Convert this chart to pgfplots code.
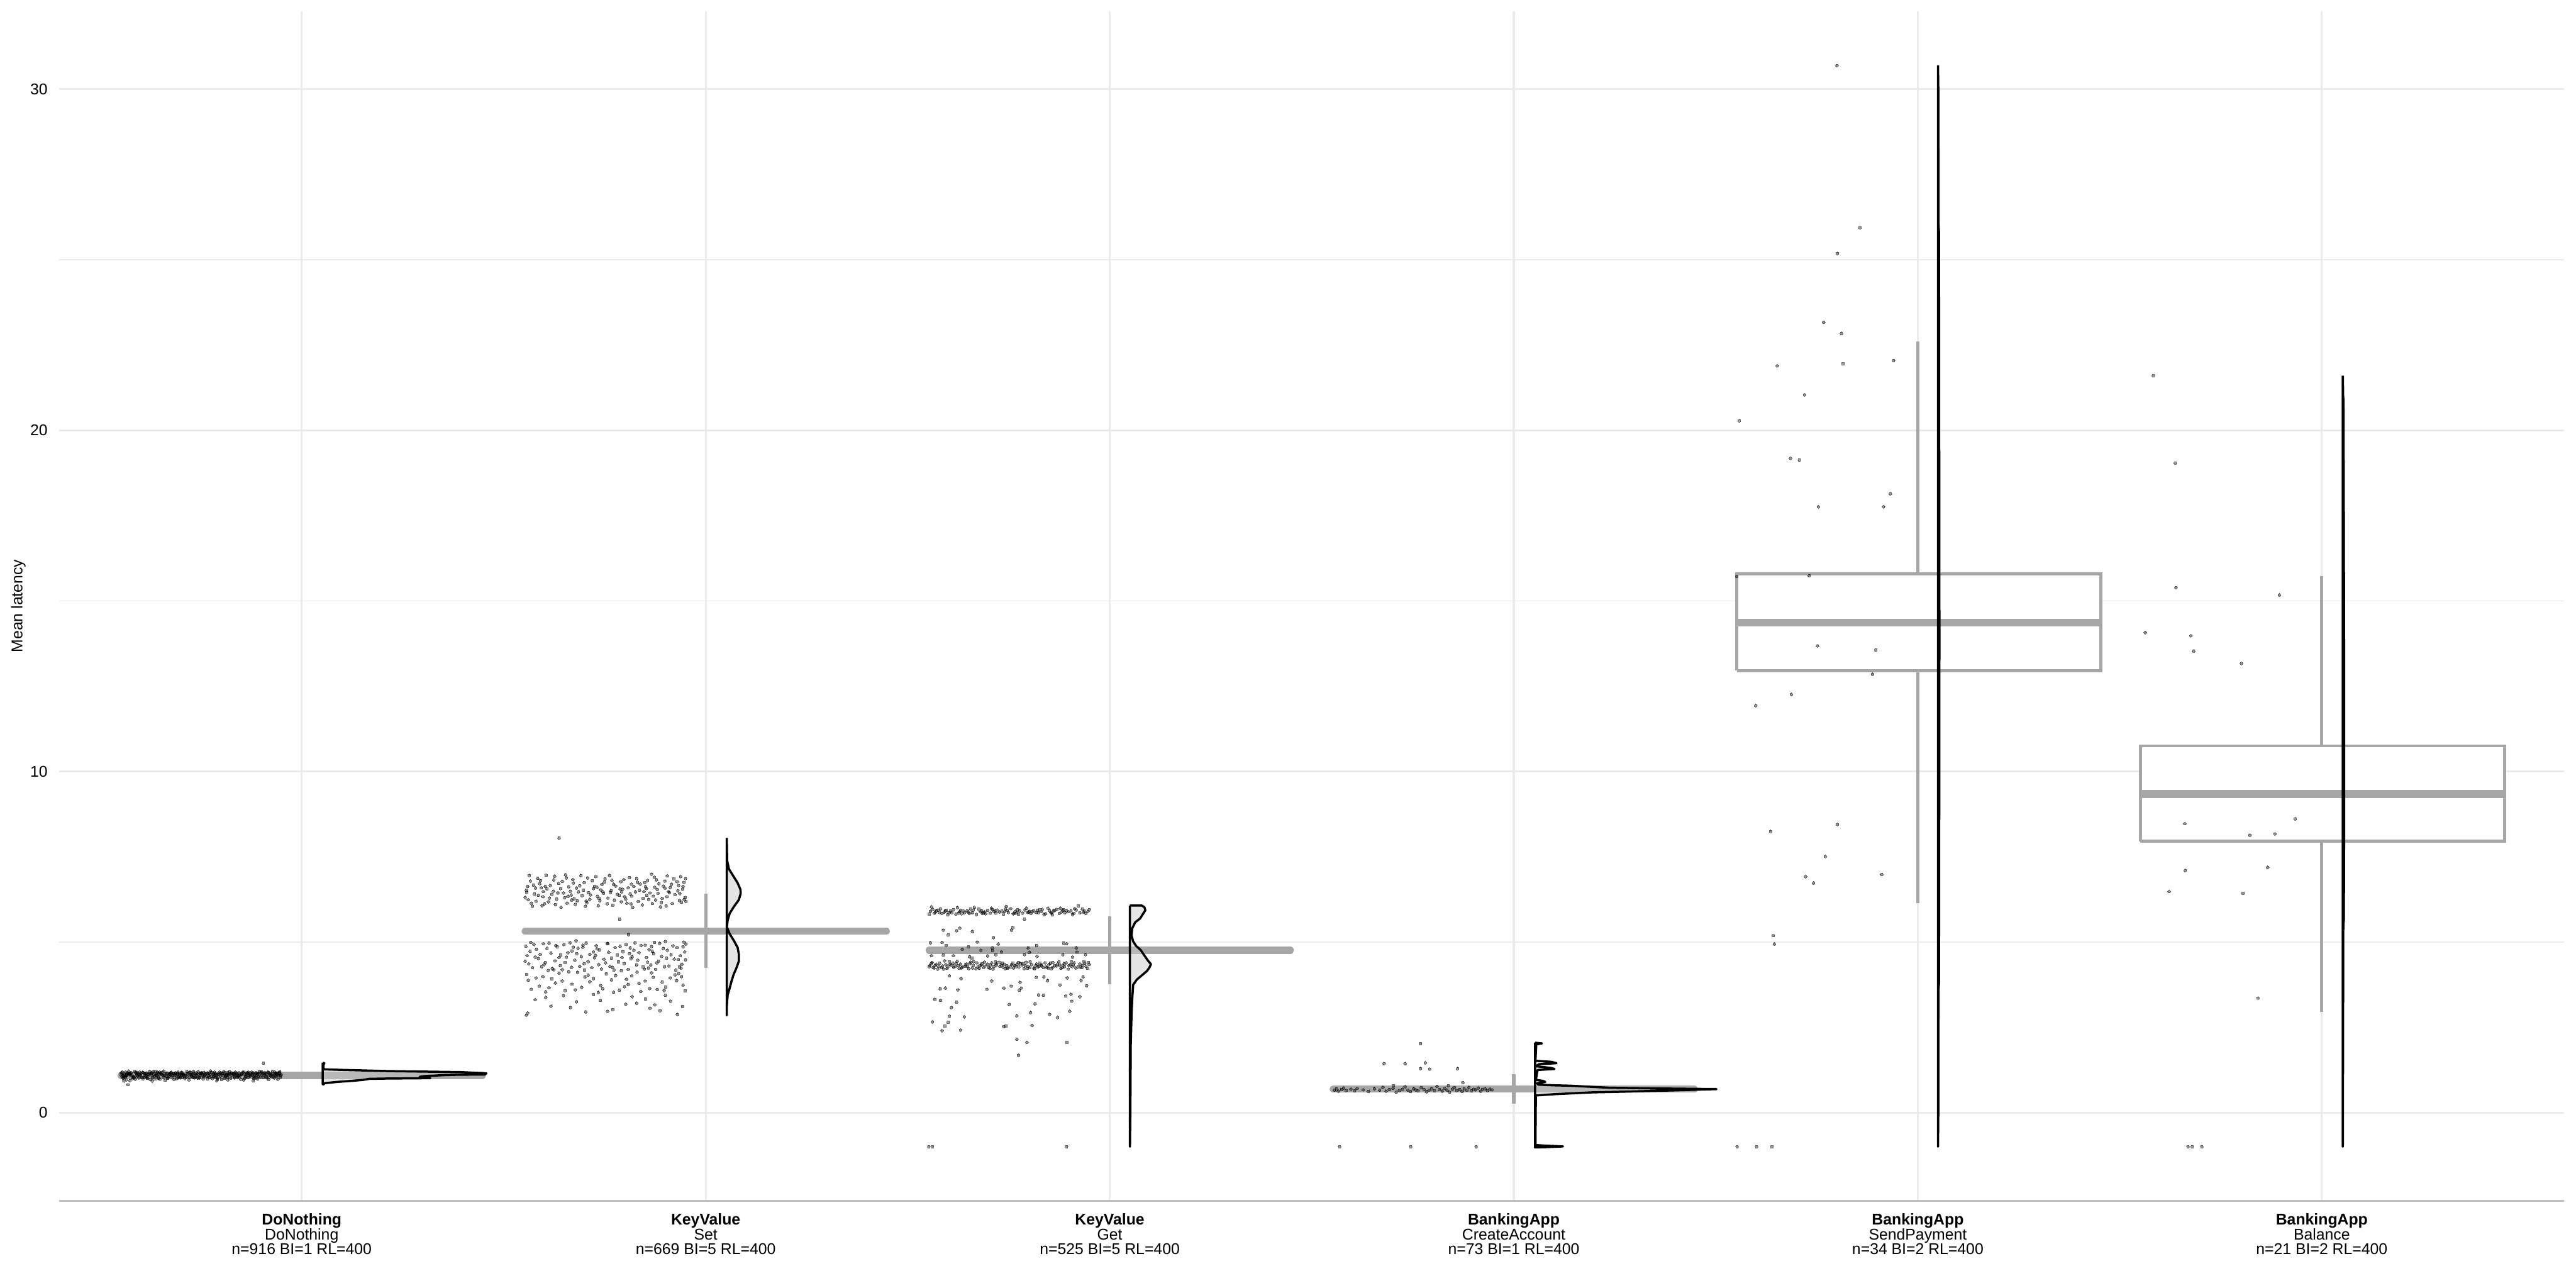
\documentclass[border=0pt]{standalone}
\usepackage{fontspec}
\setmainfont{Liberation Sans}
\usepackage{pgfplots}
\pgfplotsset{compat=1.18}
\definecolor{gridgray}{RGB}{235,235,235}
\definecolor{axisgray}{RGB}{190,190,190}
\definecolor{boxgray}{RGB}{166,166,166}
\definecolor{violinfill}{RGB}{204,204,204}
\newcommand{\tf}{\fontsize{3.05bp}{2.9bp}\selectfont}
\pgfplotsset{
  pts/.style={only marks, mark=*, mark size=0.28bp, mark options={fill=black, draw=black, line width=0pt, opacity=0.4}},
  med/.style={mark=none, draw=boxgray, line width=1.4bp, line cap=round},
  whisk/.style={mark=none, draw=boxgray, line width=0.65bp},
  boxs/.style={mark=none, draw=boxgray, fill=white, line width=0.6bp},
  viol/.style={mark=none, draw=black, line width=0.43bp, fill=violinfill, fill opacity=0.5, line join=round},
}
\begin{document}
\begin{tikzpicture}
\begin{axis}[
  at={(0,0)}, anchor=south west,
  scale only axis, width=490bp, height=232.7bp,
  xmin=0.4, xmax=6.6, ymin=-2.585, ymax=32.285,
  axis x line*=bottom, axis y line*=left,
  x axis line style={draw=axisgray, line width=0.4bp, -},
  y axis line style={draw=none},
  xtick={1,2,3,4,5,6}, ytick={0,10,20,30},
  minor ytick={5,15,25},
  major tick length=0pt, minor tick length=0pt,
  xmajorgrids, ymajorgrids, yminorgrids,
  major grid style={draw=gridgray, line width=0.38bp},
  minor grid style={draw=gridgray, line width=0.19bp},
  xticklabels={{\textbf{DoNothing}\\DoNothing\\n=916 BI=1 RL=400},
               {\textbf{KeyValue}\\Set\\n=669 BI=5 RL=400},
               {\textbf{KeyValue}\\Get\\n=525 BI=5 RL=400},
               {\textbf{BankingApp}\\CreateAccount\\n=73 BI=1 RL=400},
               {\textbf{BankingApp}\\SendPayment\\n=34 BI=2 RL=400},
               {\textbf{BankingApp}\\Balance\\n=21 BI=2 RL=400}},
  xticklabel style={font=\tf, align=center, inner sep=0pt, yshift=-2.3bp},
  yticklabel style={font=\tf, inner sep=0pt, xshift=-2.1bp},
  /pgf/number format/assume math mode=true,
  ylabel={Mean latency},
  ylabel style={font=\tf, at={(axis description cs:-0.01633,0.5)}, anchor=center, inner sep=0pt},
]
% ---------- boxes ----------
\addplot[boxs] coordinates {(4.552,12.96) (5.453,12.96) (5.453,15.8) (4.552,15.8) (4.552,12.96)};
\addplot[boxs] coordinates {(5.551,7.95) (6.453,7.95) (6.453,10.75) (5.551,10.75) (5.551,7.95)};
\addplot[whisk] coordinates {(5,15.8) (5,22.6)};
\addplot[whisk] coordinates {(5,12.96) (5,6.15)};
\addplot[whisk] coordinates {(6,10.75) (6,15.72)};
\addplot[whisk] coordinates {(6,7.95) (6,2.95)};
\addplot[med, line cap=butt, line width=1.5bp] coordinates {(4.552,14.37) (5.453,14.37)};
\addplot[med, line cap=butt, line width=1.5bp] coordinates {(5.551,9.34) (6.453,9.34)};
\addplot[whisk] coordinates {(2,4.25) (2,6.42)};
\addplot[whisk] coordinates {(3,3.77) (3,5.76)};
\addplot[whisk] coordinates {(4,0.27) (4,1.12)};
\addplot[whisk] coordinates {(1,1.0) (1,1.2)};
\addplot[med] coordinates {(0.553,1.09) (1.447,1.09)};
\addplot[med] coordinates {(1.553,5.32) (2.447,5.32)};
\addplot[med] coordinates {(2.553,4.76) (3.447,4.76)};
\addplot[med] coordinates {(3.553,0.69) (4.447,0.69)};
% ---------- violins ----------
\addplot[viol] coordinates {(1.052,1.46) (1.056,1.45) (1.054,1.40) (1.054,1.30) (1.056,1.27) (1.099,1.253) (1.215,1.218) (1.304,1.203) (1.394,1.188) (1.457,1.153) (1.453,1.117) (1.388,1.112) (1.352,1.10) (1.302,1.07) (1.292,1.05) (1.312,1.03) (1.318,1.01) (1.212,1.00) (1.167,0.99) (1.152,0.96) (1.122,0.93) (1.087,0.90) (1.057,0.864) (1.054,0.83) (1.052,0.83) (1.052,1.46)};
\addplot[viol] coordinates {(2.052,8.05) (2.053,7.39) (2.0575,7.14) (2.068,6.94) (2.0786,6.74) (2.086,6.54) (2.0865,6.42) (2.082,6.24) (2.0698,6.04) (2.0593,5.84) (2.0543,5.64) (2.0522,5.44) (2.0593,5.24) (2.0698,5.04) (2.079,4.84) (2.082,4.64) (2.082,4.44) (2.076,4.24) (2.069,4.05) (2.0638,3.85) (2.0593,3.65) (2.0543,3.45) (2.0523,3.15) (2.052,2.85) (2.052,8.05)};
\addplot[viol] coordinates {(3.05,6.07) (3.0795,6.07) (3.086,6.02) (3.088,5.93) (3.082,5.82) (3.075,5.69) (3.063,5.58) (3.0555,5.40) (3.054,5.19) (3.058,5.02) (3.065,4.89) (3.077,4.76) (3.0837,4.64) (3.095,4.45) (3.102,4.35) (3.098,4.25) (3.092,4.15) (3.077,4.00) (3.067,3.90) (3.058,3.75) (3.056,3.40) (3.054,2.90) (3.052,2.0) (3.0515,1.0) (3.051,0) (3.05,-1.0) (3.05,6.07)};
\addplot[viol] coordinates {(4.0527,2.05) (4.0697,2.03) (4.0557,2.00) (4.0537,1.52) (4.0927,1.49) (4.1057,1.45) (4.0627,1.42) (4.0547,1.36) (4.0927,1.31) (4.1007,1.28) (4.0587,1.25) (4.0547,0.96) (4.0727,0.93) (4.078,0.90) (4.0577,0.86) (4.0607,0.82) (4.1027,0.80) (4.1387,0.79) (4.2357,0.73) (4.3967,0.703) (4.5017,0.69) (4.3967,0.653) (4.2697,0.614) (4.1937,0.594) (4.1047,0.544) (4.0547,0.504) (4.0537,-0.95) (4.0827,-0.97) (4.1217,-0.99) (4.0827,-1.01) (4.0527,-1.02) (4.0527,2.05)};
\addplot[viol] coordinates {(5.05,30.7) (5.0508,30) (5.0515,26) (5.0525,25.8) (5.053,20) (5.0535,14) (5.053,8) (5.0525,3.8) (5.0512,3.6) (5.0508,0) (5.05,-1) (5.05,30.7)};
\addplot[viol] coordinates {(6.052,21.6) (6.0528,21) (6.0535,20.9) (6.0545,17) (6.0555,12) (6.0555,9) (6.0545,5.66) (6.0532,5.5) (6.0528,3.3) (6.052,-1) (6.052,21.6)};
% ---------- points: DoNothing ----------
\addplot[pts] coordinates {
(0.553,1.12) (0.584,1.05) (0.606,1.18) (0.637,0.99) (0.664,1.14) (0.689,1.08) (0.716,1.21) (0.747,1.02) (0.771,1.16) (0.802,0.97) (0.826,1.10) (0.857,1.19) (0.881,1.04) (0.912,1.13) (0.937,1.07)
(0.559,1.03) (0.578,1.17) (0.611,1.09) (0.632,1.20) (0.668,1.01) (0.693,1.15) (0.721,0.96) (0.739,1.11) (0.776,1.06) (0.797,1.19) (0.832,1.13) (0.849,0.98) (0.886,1.16) (0.905,1.03) (0.944,1.18)
(0.556,1.19) (0.588,0.98) (0.614,1.06) (0.641,1.14) (0.659,1.22) (0.695,1.04) (0.708,1.12) (0.752,1.17) (0.767,0.99) (0.806,1.09) (0.821,1.20) (0.862,1.07) (0.877,1.12) (0.918,0.97) (0.931,1.11)
(0.562,1.08) (0.575,1.14) (0.618,1.01) (0.628,1.17) (0.671,1.07) (0.684,0.97) (0.725,1.18) (0.736,1.05) (0.781,1.13) (0.792,1.02) (0.838,1.16) (0.846,1.10) (0.891,0.99) (0.901,1.20) (0.947,1.04)
(0.566,0.96) (0.592,1.10) (0.602,1.15) (0.645,1.05) (0.655,1.19) (0.698,1.11) (0.731,1.03) (0.744,1.20) (0.763,1.15) (0.811,1.05) (0.817,0.96) (0.866,1.17) (0.873,1.08) (0.921,1.15) (0.928,1.21)
(0.569,1.16) (0.597,1.02) (0.621,1.12) (0.649,0.98) (0.675,1.11) (0.702,1.18) (0.728,1.07) (0.756,0.99) (0.784,1.19) (0.814,1.12) (0.841,1.03) (0.869,1.14) (0.895,1.21) (0.924,1.06) (0.949,1.12)
(0.572,1.22) (0.594,1.07) (0.625,0.97) (0.652,1.13) (0.679,1.04) (0.706,1.10) (0.733,1.16) (0.759,1.09) (0.788,1.04) (0.809,1.17) (0.835,1.08) (0.859,1.01) (0.889,1.11) (0.916,1.19) (0.941,0.98)
(0.555,1.06) (0.587,1.21) (0.609,1.03) (0.639,1.10) (0.667,1.16) (0.691,1.00) (0.719,1.13) (0.749,1.14) (0.774,1.22) (0.799,1.07) (0.829,1.14) (0.854,1.18) (0.883,1.06) (0.909,1.09) (0.939,1.16)
(0.561,1.13) (0.582,1.00) (0.616,1.16) (0.635,1.07) (0.662,0.95) (0.687,1.17) (0.714,1.05) (0.743,1.01) (0.769,1.10) (0.804,1.14) (0.824,1.01) (0.852,1.12) (0.879,1.17) (0.914,1.02) (0.934,1.14)
(0.564,1.19) (0.579,1.11) (0.607,0.99) (0.643,1.18) (0.673,1.12) (0.697,1.06) (0.723,1.19) (0.738,1.08) (0.779,1.00) (0.794,1.12) (0.836,1.19) (0.861,1.05) (0.887,1.02) (0.903,1.14) (0.943,1.09)
(0.558,1.01) (0.591,1.15) (0.613,1.13) (0.631,1.03) (0.657,1.08) (0.701,1.13) (0.711,1.00) (0.751,1.16) (0.773,1.12) (0.807,1.21) (0.819,1.11) (0.856,0.96) (0.893,1.13) (0.911,1.16) (0.932,1.02)
(0.567,1.10) (0.585,1.04) (0.623,1.20) (0.647,1.15) (0.669,1.02) (0.682,1.14) (0.729,1.11) (0.746,1.04) (0.786,1.15) (0.791,0.98) (0.843,1.06) (0.864,1.16) (0.876,1.19) (0.926,1.11) (0.946,1.20)
(0.571,1.14) (0.599,1.19) (0.604,1.04) (0.654,1.12) (0.677,1.18) (0.704,1.03) (0.717,1.15) (0.761,1.12) (0.783,1.06) (0.812,1.10) (0.831,1.15) (0.847,1.09) (0.898,1.04) (0.919,1.08) (0.938,1.13)
(0.554,1.17) (0.577,1.08) (0.627,1.11) (0.638,1.21) (0.661,1.10) (0.694,1.19) (0.735,1.02) (0.754,1.10) (0.766,1.17) (0.816,1.03) (0.839,1.12) (0.871,1.11) (0.882,1.00) (0.907,1.17) (0.929,1.05)
(0.563,1.04) (0.596,1.13) (0.619,1.07) (0.646,1.01) (0.684,1.15) (0.709,1.08) (0.726,1.12) (0.758,1.18) (0.789,1.11) (0.801,1.16) (0.845,1.17) (0.858,1.13) (0.891,1.15) (0.922,1.13) (0.948,1.08)
(0.568,1.11) (0.589,1.18) (0.612,1.15) (0.651,1.16) (0.666,1.06) (0.699,1.02) (0.739,1.17) (0.764,1.07) (0.777,1.18) (0.818,1.13) (0.834,1.02) (0.867,1.03) (0.894,1.07) (0.913,1.05) (0.936,1.17)
(0.557,1.09) (0.583,1.03) (0.629,1.16) (0.642,1.09) (0.672,1.13) (0.686,1.10) (0.713,1.08) (0.748,1.09) (0.791,1.13) (0.809,1.01) (0.827,1.17) (0.851,1.14) (0.885,1.10) (0.917,1.18) (0.941,1.11)
(0.574,1.15) (0.601,1.09) (0.617,1.02) (0.634,1.12) (0.676,1.17) (0.705,1.16) (0.722,1.04) (0.742,1.13) (0.772,1.03) (0.798,1.15) (0.842,1.09) (0.868,1.19) (0.878,1.14) (0.901,1.11) (0.945,1.15)
(0.565,1.07) (0.593,1.16) (0.624,1.14) (0.658,1.04) (0.681,1.09) (0.692,1.13) (0.732,1.20) (0.757,1.06) (0.785,1.09) (0.813,1.08) (0.822,1.13) (0.872,1.07) (0.899,1.18) (0.923,1.10) (0.933,1.19)
(0.573,1.13) (0.598,1.12) (0.608,1.17) (0.648,1.19) (0.674,1.14) (0.703,1.11) (0.727,1.09) (0.753,1.15) (0.782,1.14) (0.817,1.18) (0.833,1.05) (0.863,1.12) (0.888,1.16) (0.908,1.12) (0.935,1.10)
(0.905,1.45) (0.570,0.82) (0.560,0.93) (0.575,0.94) (0.630,0.93) (0.790,0.94) (0.880,0.935)
};
% ---------- points: KeyValue Set ----------
\addplot[pts] coordinates {
(1.556,6.52) (1.589,6.71) (1.611,6.18) (1.648,6.44) (1.671,6.83) (1.702,6.05) (1.731,6.61) (1.758,6.29) (1.790,6.77) (1.815,6.12) (1.847,6.48) (1.873,6.90) (1.904,6.33) (1.933,6.66)
(1.561,6.24) (1.584,6.87) (1.619,6.40) (1.642,6.02) (1.680,6.58) (1.699,6.74) (1.738,6.21) (1.762,6.95) (1.786,6.37) (1.822,6.63) (1.843,6.09) (1.880,6.54) (1.899,6.79) (1.940,6.17)
(1.566,6.79) (1.597,6.33) (1.615,6.66) (1.655,6.88) (1.674,6.27) (1.710,6.45) (1.728,6.92) (1.770,6.08) (1.794,6.55) (1.817,6.35) (1.856,6.81) (1.876,6.23) (1.912,6.60) (1.936,6.42)
(1.571,6.05) (1.593,6.59) (1.626,6.93) (1.651,6.30) (1.685,6.47) (1.706,6.15) (1.743,6.69) (1.766,6.51) (1.802,6.26) (1.829,6.86) (1.851,6.62) (1.888,6.03) (1.908,6.48) (1.946,6.75)
(1.559,6.63) (1.601,6.12) (1.623,6.49) (1.661,6.62) (1.691,6.95) (1.715,6.38) (1.734,6.07) (1.777,6.64) (1.797,6.83) (1.833,6.19) (1.862,6.44) (1.884,6.71) (1.917,6.13) (1.949,6.31)
(1.576,6.41) (1.605,6.96) (1.631,6.26) (1.657,6.14) (1.694,6.36) (1.719,6.80) (1.747,6.43) (1.774,6.23) (1.808,6.59) (1.826,6.47) (1.866,6.99) (1.892,6.28) (1.921,6.85) (1.943,6.55)
(1.563,6.95) (1.586,6.37) (1.636,6.72) (1.665,6.49) (1.677,6.11) (1.722,6.57) (1.751,6.85) (1.781,6.40) (1.805,6.14) (1.838,6.70) (1.859,6.25) (1.895,6.64) (1.924,6.39) (1.938,6.92)
(1.553,6.31) (1.598,6.48) (1.628,6.10) (1.645,6.78) (1.688,6.65) (1.713,6.25) (1.740,6.53) (1.768,6.81) (1.799,6.33) (1.819,6.02) (1.853,6.57) (1.882,6.43) (1.915,6.69) (1.951,6.19)
(1.568,6.14) (1.591,6.80) (1.607,6.56) (1.659,6.34) (1.682,6.21) (1.708,6.88) (1.736,6.28) (1.772,6.69) (1.792,6.47) (1.836,6.52) (1.870,6.35) (1.878,6.82) (1.902,6.06) (1.931,6.50)
(1.574,6.67) (1.580,6.20) (1.624,6.82) (1.641,6.57) (1.667,6.38) (1.725,6.63) (1.756,6.12) (1.764,6.46) (1.811,6.89) (1.845,6.28) (1.849,6.74) (1.890,6.16) (1.929,6.77) (1.947,6.25)
(1.557,6.46) (1.603,6.63) (1.613,6.29) (1.653,6.97) (1.697,6.52) (1.704,6.20) (1.749,6.76) (1.788,6.56) (1.813,6.41) (1.831,6.75) (1.868,6.13) (1.899,6.58) (1.910,6.45) (1.944,6.63)
(1.579,6.58) (1.595,6.07) (1.634,6.44) (1.668,6.23) (1.672,6.73) (1.732,6.34) (1.745,6.48) (1.791,6.18) (1.816,6.70) (1.854,6.37) (1.874,6.61) (1.905,6.94) (1.935,6.22) (1.950,6.86)
(1.555,4.88) (1.586,4.52) (1.612,4.97) (1.640,4.31) (1.669,4.74) (1.700,4.18) (1.727,4.61) (1.758,4.95) (1.784,4.42) (1.813,4.83) (1.845,4.27) (1.871,4.66) (1.900,5.02) (1.932,4.49)
(1.562,4.36) (1.581,4.79) (1.620,4.22) (1.649,4.93) (1.676,4.47) (1.696,4.85) (1.735,4.34) (1.760,4.70) (1.791,4.16) (1.818,4.57) (1.850,4.91) (1.879,4.39) (1.905,4.76) (1.939,4.24)
(1.567,4.99) (1.594,4.28) (1.617,4.68) (1.655,4.56) (1.679,5.04) (1.709,4.43) (1.729,4.89) (1.769,4.26) (1.795,4.72) (1.825,4.98) (1.853,4.55) (1.876,4.20) (1.914,4.63) (1.944,4.86)
(1.558,4.60) (1.598,4.95) (1.627,4.45) (1.645,4.19) (1.684,4.82) (1.713,4.64) (1.742,4.21) (1.767,4.53) (1.803,4.93) (1.829,4.33) (1.860,4.78) (1.886,4.96) (1.909,4.30) (1.948,4.71)
(1.571,4.25) (1.590,4.64) (1.632,4.86) (1.659,4.69) (1.688,4.29) (1.704,4.97) (1.748,4.50) (1.776,4.84) (1.798,4.37) (1.835,4.69) (1.858,4.24) (1.891,4.58) (1.919,4.89) (1.941,4.35)
(1.565,4.73) (1.603,4.40) (1.624,4.19) (1.664,4.98) (1.692,4.58) (1.718,4.25) (1.737,4.77) (1.781,4.62) (1.808,4.20) (1.832,4.47) (1.866,4.87) (1.883,4.44) (1.926,4.18) (1.951,4.94)
(1.575,4.93) (1.607,4.82) (1.637,4.55) (1.652,4.40) (1.696,4.91) (1.722,4.71) (1.752,4.39) (1.773,4.18) (1.811,4.66) (1.840,4.90) (1.864,4.33) (1.895,4.81) (1.922,4.50) (1.937,4.60)
(1.553,4.44) (1.610,4.17) (1.629,4.90) (1.668,4.26) (1.681,4.66) (1.725,4.54) (1.756,4.96) (1.788,4.88) (1.815,4.51) (1.848,4.21) (1.868,4.73) (1.898,4.28) (1.929,4.84) (1.946,5.00)
(1.578,4.56) (1.600,4.34) (1.641,4.62) (1.672,4.85) (1.699,4.37) (1.731,4.80) (1.763,4.29) (1.793,4.55) (1.822,4.76) (1.856,4.41) (1.873,4.99) (1.903,4.53) (1.935,4.27) (1.950,4.48)
(1.557,4.05) (1.588,3.71) (1.619,3.92) (1.652,3.58) (1.683,4.11) (1.713,3.84) (1.745,3.63) (1.777,4.02) (1.808,3.76) (1.839,3.55) (1.870,3.97) (1.901,3.68) (1.933,4.08)
(1.568,3.62) (1.597,3.99) (1.628,3.80) (1.661,4.13) (1.693,3.67) (1.722,3.93) (1.754,4.07) (1.786,3.59) (1.817,4.01) (1.850,3.86) (1.880,3.61) (1.912,3.95) (1.944,3.74)
(1.561,3.88) (1.604,3.54) (1.637,4.09) (1.669,3.77) (1.701,3.98) (1.734,3.52) (1.767,3.89) (1.799,3.69) (1.830,4.12) (1.861,3.64) (1.892,3.83) (1.924,4.04) (1.949,3.57)
(1.580,3.95) (1.612,3.66) (1.645,3.86) (1.677,3.60) (1.709,4.03) (1.740,3.73) (1.772,3.53) (1.804,3.91) (1.835,3.79) (1.866,4.10) (1.897,3.58) (1.928,3.87) (1.940,3.99)
(1.556,2.86) (1.559,2.92) (1.578,3.31) (1.604,3.38) (1.617,3.12) (1.648,3.43) (1.665,3.08) (1.680,3.25) (1.703,2.95) (1.722,3.46) (1.739,3.29) (1.757,2.97) (1.770,3.02) (1.802,3.18) (1.818,3.40) (1.829,3.21) (1.851,3.33) (1.862,3.06) (1.874,3.16) (1.887,2.99) (1.900,3.44) (1.913,3.27) (1.930,2.88) (1.943,3.11)
(1.637,8.05) (1.787,5.67) (1.809,5.22)
};
% ---------- points: KeyValue Get ----------
\addplot[pts] coordinates {
(2.556,5.90) (2.585,5.84) (2.613,5.95) (2.641,5.87) (2.670,5.81) (2.698,5.93) (2.727,5.88) (2.755,5.98) (2.784,5.85) (2.812,5.91) (2.841,5.83) (2.869,5.96) (2.898,5.89) (2.926,5.86)
(2.562,5.96) (2.590,5.88) (2.619,5.82) (2.647,5.92) (2.676,5.97) (2.704,5.85) (2.733,5.91) (2.761,5.83) (2.790,5.94) (2.818,5.87) (2.847,5.99) (2.875,5.84) (2.904,5.92) (2.932,5.97)
(2.566,5.85) (2.595,5.93) (2.623,6.01) (2.652,5.84) (2.680,5.89) (2.709,5.96) (2.737,5.82) (2.766,5.90) (2.794,5.99) (2.823,5.86) (2.851,5.92) (2.880,5.88) (2.908,5.81) (2.937,5.91)
(2.571,5.92) (2.599,5.80) (2.628,5.89) (2.656,5.97) (2.685,5.84) (2.713,5.90) (2.742,5.97) (2.770,5.86) (2.799,5.88) (2.827,5.95) (2.856,5.85) (2.884,5.93) (2.913,5.98) (2.941,5.84)
(2.559,6.03) (2.578,5.87) (2.606,5.91) (2.634,5.83) (2.662,5.94) (2.690,5.88) (2.718,5.85) (2.746,5.93) (2.774,5.82) (2.802,5.90) (2.830,5.89) (2.858,5.80) (2.886,5.95) (2.946,5.90)
(2.553,5.82) (2.581,5.97) (2.609,5.86) (2.637,5.91) (2.665,6.02) (2.693,5.83) (2.721,5.94) (2.749,5.87) (2.777,5.92) (2.805,5.84) (2.833,5.96) (2.861,5.91) (2.889,5.86) (2.917,5.94)
(2.568,5.88) (2.593,5.91) (2.626,5.85) (2.651,5.88) (2.683,5.92) (2.707,5.99) (2.740,5.89) (2.764,5.84) (2.797,5.87) (2.821,5.93) (2.854,5.87) (2.878,5.99) (2.911,5.84) (2.935,5.88)
(2.575,5.94) (2.602,5.86) (2.631,5.93) (2.660,5.86) (2.688,5.86) (2.716,5.91) (2.744,6.04) (2.772,5.95) (2.808,5.90) (2.837,5.81) (2.864,5.93) (2.893,5.92) (2.922,6.06) (2.949,5.95)
(2.555,4.32) (2.584,4.25) (2.612,4.38) (2.641,4.29) (2.669,4.22) (2.698,4.35) (2.726,4.41) (2.755,4.27) (2.783,4.33) (2.812,4.24) (2.840,4.39) (2.869,4.30) (2.897,4.21) (2.926,4.36)
(2.560,4.40) (2.589,4.21) (2.617,4.29) (2.646,4.36) (2.674,4.27) (2.703,4.23) (2.731,4.33) (2.760,4.38) (2.788,4.22) (2.817,4.31) (2.845,4.26) (2.874,4.43) (2.902,4.34) (2.931,4.25)
(2.565,4.24) (2.594,4.34) (2.622,4.44) (2.651,4.22) (2.679,4.31) (2.708,4.39) (2.736,4.26) (2.765,4.31) (2.793,4.41) (2.822,4.27) (2.850,4.35) (2.879,4.23) (2.907,4.28) (2.936,4.42)
(2.570,4.35) (2.599,4.27) (2.627,4.23) (2.656,4.41) (2.684,4.37) (2.713,4.28) (2.741,4.22) (2.770,4.35) (2.798,4.29) (2.827,4.38) (2.855,4.22) (2.884,4.32) (2.912,4.39) (2.941,4.29)
(2.553,4.28) (2.579,4.38) (2.607,4.32) (2.635,4.26) (2.663,4.43) (2.691,4.30) (2.719,4.36) (2.747,4.23) (2.775,4.27) (2.803,4.42) (2.831,4.30) (2.859,4.26) (2.887,4.37) (2.945,4.23)
(2.574,4.21) (2.603,4.42) (2.631,4.35) (2.660,4.24) (2.688,4.25) (2.717,4.42) (2.745,4.31) (2.774,4.40) (2.802,4.25) (2.831,4.33) (2.859,4.40) (2.888,4.28) (2.916,4.24) (2.949,4.34)
(2.558,4.37) (2.586,4.30) (2.614,4.26) (2.643,4.33) (2.671,4.39) (2.700,4.26) (2.728,4.29) (2.757,4.34) (2.785,4.37) (2.814,4.22) (2.842,4.27) (2.871,4.36) (2.899,4.31) (2.928,4.27)
(2.563,4.26) (2.591,4.45) (2.620,4.37) (2.648,4.28) (2.677,4.23) (2.705,4.33) (2.734,4.38) (2.762,4.24) (2.791,4.31) (2.819,4.36) (2.848,4.24) (2.876,4.33) (2.905,4.42) (2.933,4.31)
(2.568,4.31) (2.597,4.23) (2.625,4.31) (2.654,4.37) (2.682,4.33) (2.711,4.21) (2.739,4.35) (2.768,4.28) (2.796,4.23) (2.825,4.29) (2.853,4.38) (2.882,4.25) (2.910,4.33) (2.938,4.38)
(2.577,4.29) (2.605,4.35) (2.633,4.24) (2.662,4.32) (2.690,4.41) (2.719,4.32) (2.748,4.25) (2.779,4.37) (2.807,4.34) (2.836,4.25) (2.864,4.31) (2.892,4.39) (2.921,4.27) (2.947,4.40)
(2.789,5.67) (2.588,5.35) (2.600,5.21) (2.621,5.33) (2.629,5.41) (2.660,5.31) (2.757,5.35) (2.760,5.42) (2.712,5.13) (2.724,4.94) (2.556,4.98) (2.585,4.99) (2.595,4.90) (2.650,4.86) (2.672,5.00) (2.709,4.83) (2.635,4.79) (2.681,4.76) (2.710,4.75) (2.732,4.71) (2.819,4.90) (2.798,4.83) (2.801,4.70) (2.886,4.97) (2.893,4.95) (2.917,4.83) (2.919,4.71) (2.884,4.63) (2.940,4.63) (2.559,4.60) (2.588,4.62) (2.613,4.60) (2.653,4.57) (2.659,4.53) (2.698,4.59) (2.718,4.63) (2.789,4.63) (2.820,4.58) (2.908,4.56)
(2.603,4.01) (2.632,3.93) (2.580,3.63) (2.593,3.65) (2.624,3.60) (2.696,3.62) (2.708,3.86) (2.738,3.65) (2.756,3.71) (2.778,3.82) (2.781,3.65) (2.776,3.59) (2.818,3.97) (2.837,3.98) (2.846,3.87) (2.877,3.74) (2.895,3.95) (2.934,3.98) (2.929,3.87) (2.943,3.72)
(2.567,3.32) (2.581,3.29) (2.621,3.24) (2.608,3.08) (2.751,3.17) (2.824,3.45) (2.836,3.44) (2.891,3.42) (2.904,3.47) (2.906,3.27) (2.926,3.40) (2.815,3.19)
(2.603,2.83) (2.640,2.81) (2.561,2.66) (2.600,2.65) (2.592,2.54) (2.585,2.40) (2.631,2.42) (2.770,2.84) (2.804,2.93) (2.851,2.88) (2.871,2.79) (2.901,2.97) (2.738,2.52) (2.743,2.54) (2.808,2.56) (2.770,2.15) (2.795,2.06) (2.894,2.06) (2.774,1.68)
(2.552,-1) (2.561,-1) (2.893,-1)
};
% ---------- points: CreateAccount ----------
\addplot[pts] coordinates {
(3.556,0.66) (3.561,0.70) (3.566,0.63) (3.574,0.68) (3.579,0.72) (3.585,0.65) (3.597,0.69) (3.606,0.64) (3.612,0.71) (3.627,0.67) (3.640,0.62) (3.655,0.70) (3.668,0.66) (3.676,0.74) (3.684,0.63) (3.692,0.68) (3.701,0.71) (3.709,0.60) (3.717,0.65) (3.725,0.69) (3.731,0.76) (3.738,0.66) (3.744,0.62) (3.752,0.70) (3.757,0.67) (3.763,0.64) (3.771,0.73) (3.778,0.68) (3.784,0.61) (3.790,0.66) (3.797,0.70) (3.804,0.64) (3.810,0.77) (3.816,0.68) (3.823,0.63) (3.829,0.71) (3.835,0.66) (3.841,0.60) (3.848,0.69) (3.853,0.73) (3.859,0.65) (3.866,0.68) (3.872,0.62) (3.877,0.70) (3.884,0.66) (3.889,0.74) (3.895,0.64) (3.901,0.69) (3.906,0.67) (3.912,0.72) (3.918,0.63) (3.923,0.68) (3.929,0.70) (3.935,0.65) (3.941,0.69) (3.946,0.67) (3.838,0.79) (3.702,0.79)
(3.769,2.02) (3.679,1.44) (3.731,1.44) (3.781,1.46) (3.769,1.29) (3.792,1.28) (3.861,1.29) (3.874,0.88) (3.569,-1) (3.745,-1) (3.907,-1)
};
% ---------- points: SendPayment ----------
\addplot[pts] coordinates {
(4.800,30.69) (4.857,25.94) (4.801,25.18) (4.767,23.17) (4.811,22.84) (4.652,21.89) (4.815,21.95) (4.940,22.04) (4.720,21.04) (4.558,20.28) (4.685,19.18) (4.707,19.13) (4.754,17.76) (4.932,18.14) (4.915,17.76) (4.552,15.72) (4.731,15.74) (4.752,13.68) (4.896,13.56) (4.888,12.85) (4.599,11.93) (4.687,12.26) (4.636,8.24) (4.801,8.45) (4.771,7.51) (4.722,6.92) (4.742,6.73) (4.911,6.98) (4.642,5.19) (4.645,4.94) (4.553,-1) (4.601,-1) (4.639,-1)
};
% ---------- points: Balance ----------
\addplot[pts] coordinates {
(5.583,21.6) (5.637,19.04) (5.639,15.39) (5.895,15.17) (5.563,14.07) (5.676,13.98) (5.683,13.53) (5.801,13.17) (5.661,8.47) (5.934,8.61) (5.822,8.13) (5.884,8.17) (5.866,7.19) (5.662,7.10) (5.622,6.48) (5.805,6.43) (5.842,3.36) (5.669,-1) (5.679,-1) (5.703,-1)
};
\end{axis}
\pgfresetboundingbox
\useasboundingbox (-11.6bp,-17bp) rectangle (492.3bp,234.9bp);
\end{tikzpicture}
\end{document}
